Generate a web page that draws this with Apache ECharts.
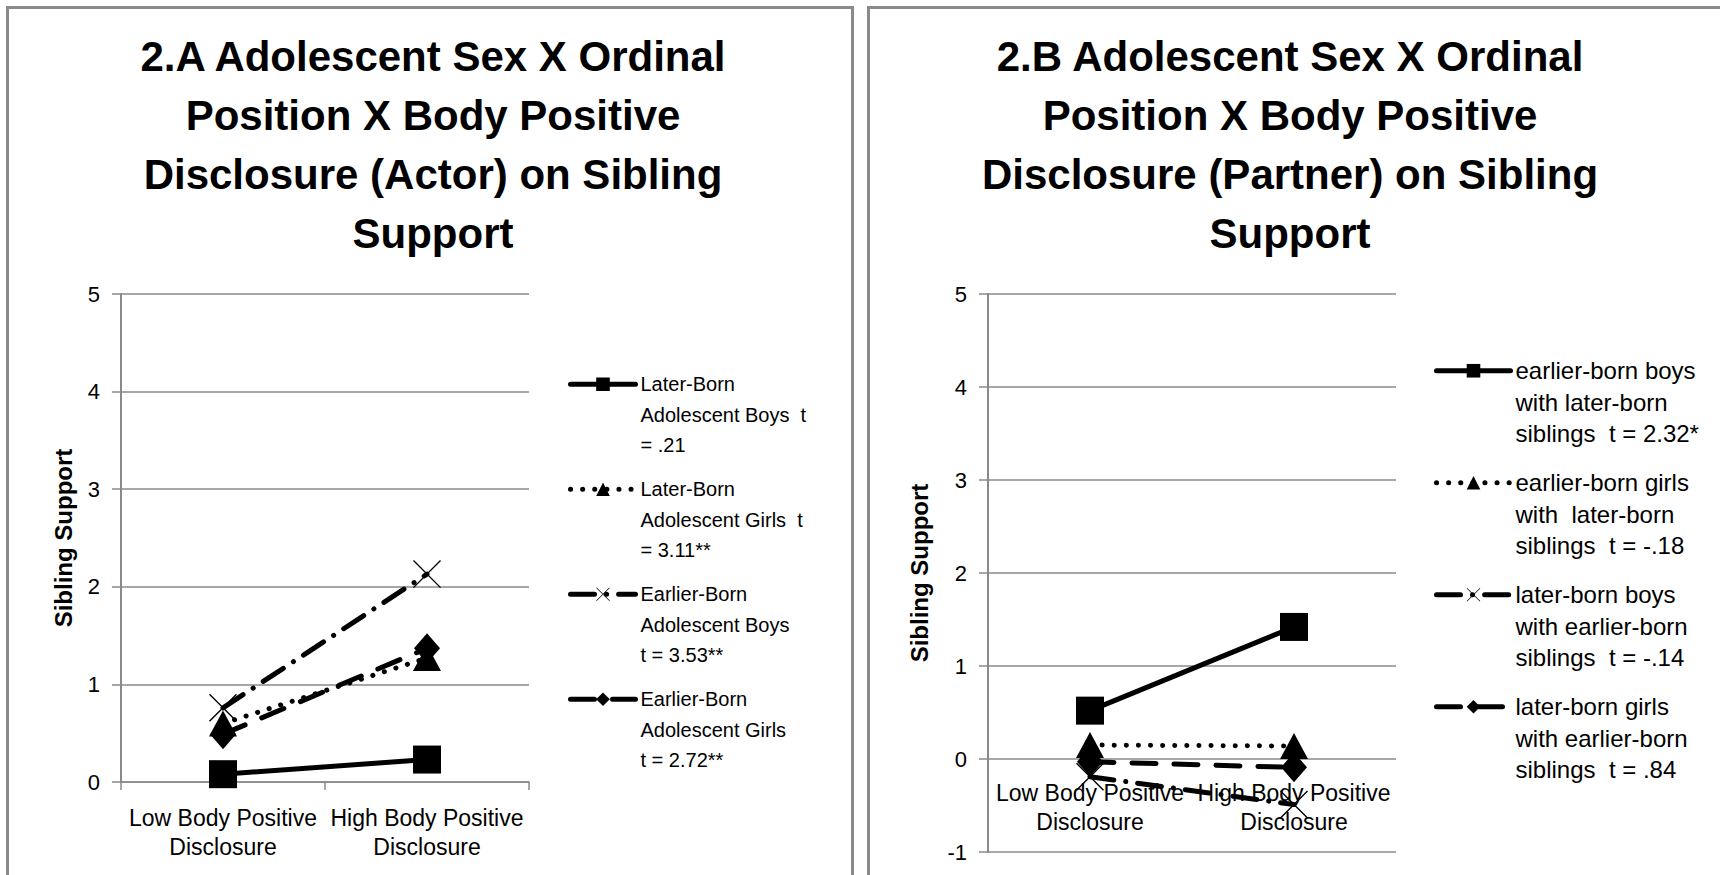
<!DOCTYPE html>
<html>
<head>
<meta charset="utf-8">
<title>Sibling Support</title>
<script src="https://cdn.jsdelivr.net/npm/echarts@6/dist/echarts.min.js"></script>
<style>
  html, body { margin: 0; padding: 0; background: #fff; }
  body { width: 1720px; height: 875px; position: relative; overflow: hidden; }
  /* the two panel frames */
  .frame { position: absolute; top: 6px; height: 900px; border: 3px solid #8a8a8a; box-sizing: border-box; }
  #frameA { left: 6px; width: 848px; }
  #frameB { left: 867px; width: 900px; }
  #chart { position: absolute; left: 0; top: 0; width: 1720px; height: 875px; }
</style>
</head>
<body>
<div class="frame" id="frameA"></div>
<div class="frame" id="frameB"></div>
<div id="chart"></div>
<script>
// x categories
const categories = ['Low Body Positive\nDisclosure', 'High Body Positive\nDisclosure'];

// 2.A actor model
const titleA = '2.A Adolescent Sex X Ordinal\nPosition X Body Positive\nDisclosure (Actor) on Sibling\nSupport';
const namesA = [
  'Later-Born\nAdolescent Boys  t\n= .21',
  'Later-Born\nAdolescent Girls  t\n= 3.11**',
  'Earlier-Born\nAdolescent Boys\nt = 3.53**',
  'Earlier-Born\nAdolescent Girls\nt = 2.72**'
];
const laterBoysA = [0.08, 0.23];
const laterGirlsA = [0.60, 1.27];
const earlierBoysA = [0.76, 2.13];
const earlierGirlsA = [0.49, 1.37];
const ticksA = [0, 5];

// 2.B partner model
const titleB = '2.B Adolescent Sex X Ordinal\nPosition X Body Positive\nDisclosure (Partner) on Sibling\nSupport';
const namesB = [
  'earlier-born boys\nwith later-born\nsiblings  t = 2.32*',
  'earlier-born girls\nwith  later-born\nsiblings  t = -.18',
  'later-born boys\nwith earlier-born\nsiblings  t = -.14',
  'later-born girls\nwith earlier-born\nsiblings  t = .84'
];
const earlierBoysB = [0.52, 1.42];
const earlierGirlsB = [0.15, 0.14];
const laterBoysB = [-0.19, -0.49];
const laterGirlsB = [-0.03, -0.09];
const ticksB = [-1, 5];

const FONT = 'Liberation Sans';
const GREY = '#8a8a8a';
// thin X marker (Excel style)
const CROSS = 'path://M0,0.7L0.7,0L20,19.3L19.3,20Z M19.3,0L20,0.7L0.7,20L0,19.3Z';

// line look for the four groups: solid/square, dotted/triangle, dash-dot/X, dash/diamond
const looks = [
  { symbol: 'rect', size: 28, type: 'solid' },
  { symbol: 'triangle', size: [28, 26], type: [0.1, 12] },
  { symbol: CROSS, size: 28, type: [24, 12, 0.1, 12] },
  { symbol: 'diamond', size: [26, 30], type: [24, 18] }
];

function makeSeries(names, values, idx) {
  return values.map((v, i) => ({
    name: names[i],
    type: 'line',
    xAxisIndex: idx,
    yAxisIndex: idx,
    data: v,
    symbol: looks[i].symbol,
    symbolSize: looks[i].size,
    showAllSymbol: true,
    lineStyle: { color: '#000', width: 5, type: looks[i].type, cap: 'round' },
    itemStyle: { color: '#000' },
    emphasis: { disabled: true },
    z: 10 - i
  }));
}

function yAxis(idx, range, gap) {
  return {
    type: 'value', gridIndex: idx, min: range[0], max: range[1], interval: 1,
    name: 'Sibling Support', nameLocation: 'middle', nameGap: gap,
    nameTextStyle: { fontFamily: FONT, fontSize: 24, fontWeight: 'bold', color: '#000' },
    axisLine: { show: true, onZero: false, lineStyle: { color: GREY, width: 2 } },
    axisTick: { show: true, length: 9, lineStyle: { color: GREY, width: 1.5 } },
    axisLabel: { fontFamily: FONT, fontSize: 22, color: '#000', margin: 21 },
    splitLine: { lineStyle: { color: GREY, width: 1.5 } }
  };
}

// labelMargin < 0 lifts the labels from the grid bottom up to the zero line (panel B)
function xAxis(idx, showLine, labelMargin) {
  return {
    type: 'category', gridIndex: idx, data: categories, boundaryGap: true,
    axisLine: { show: showLine, onZero: false, lineStyle: { color: GREY, width: 1.5 } },
    axisTick: { show: showLine, length: 8, lineStyle: { color: GREY, width: 1.5 } },
    axisLabel: { fontFamily: FONT, fontSize: 23, lineHeight: 29, color: '#000', margin: labelMargin, interval: 0 }
  };
}

// two blank lines in front keep the icon level with the first text line
function legend(names, left, top, w, fs, lh, gap) {
  return {
    data: names, orient: 'vertical', left: left, top: top, padding: 0,
    itemWidth: w, itemHeight: 17, itemGap: gap, selectedMode: false,
    lineStyle: { width: 5 },
    formatter: name => '\u00a0\n\u00a0\n' + name,
    textStyle: { fontFamily: FONT, fontSize: fs, lineHeight: lh, color: '#000' }
  };
}

function title(text, left) {
  return {
    text: text, left: left, top: 22, textAlign: 'center',
    textStyle: { fontFamily: FONT, fontSize: 42, fontWeight: 'bold', lineHeight: 59, color: '#000' }
  };
}

const chart = echarts.init(document.getElementById('chart'), null, { renderer: 'svg' });
chart.setOption({
  animation: false,
  backgroundColor: 'transparent',
  title: [title(titleA, 428), title(titleB, 1285)],
  grid: [
    { left: 121, top: 294, width: 408, height: 488, containLabel: false, outerBoundsMode: 'none' },
    { left: 988, top: 294, width: 408, height: 558, containLabel: false, outerBoundsMode: 'none' }
  ],
  xAxis: [xAxis(0, true, 21), xAxis(1, false, -73.5)],
  yAxis: [yAxis(0, ticksA, 46), yAxis(1, ticksB, 57)],
  legend: [
    legend(namesA, 568, 308, 65, 20, 30.5, -47.5),
    legend(namesB, 1434, 292, 74, 24, 31.5, -45.5)
  ],
  series: [
    ...makeSeries(namesA, [laterBoysA, laterGirlsA, earlierBoysA, earlierGirlsA], 0),
    ...makeSeries(namesB, [earlierBoysB, earlierGirlsB, laterBoysB, laterGirlsB], 1)
  ]
});
</script>
</body>
</html>
